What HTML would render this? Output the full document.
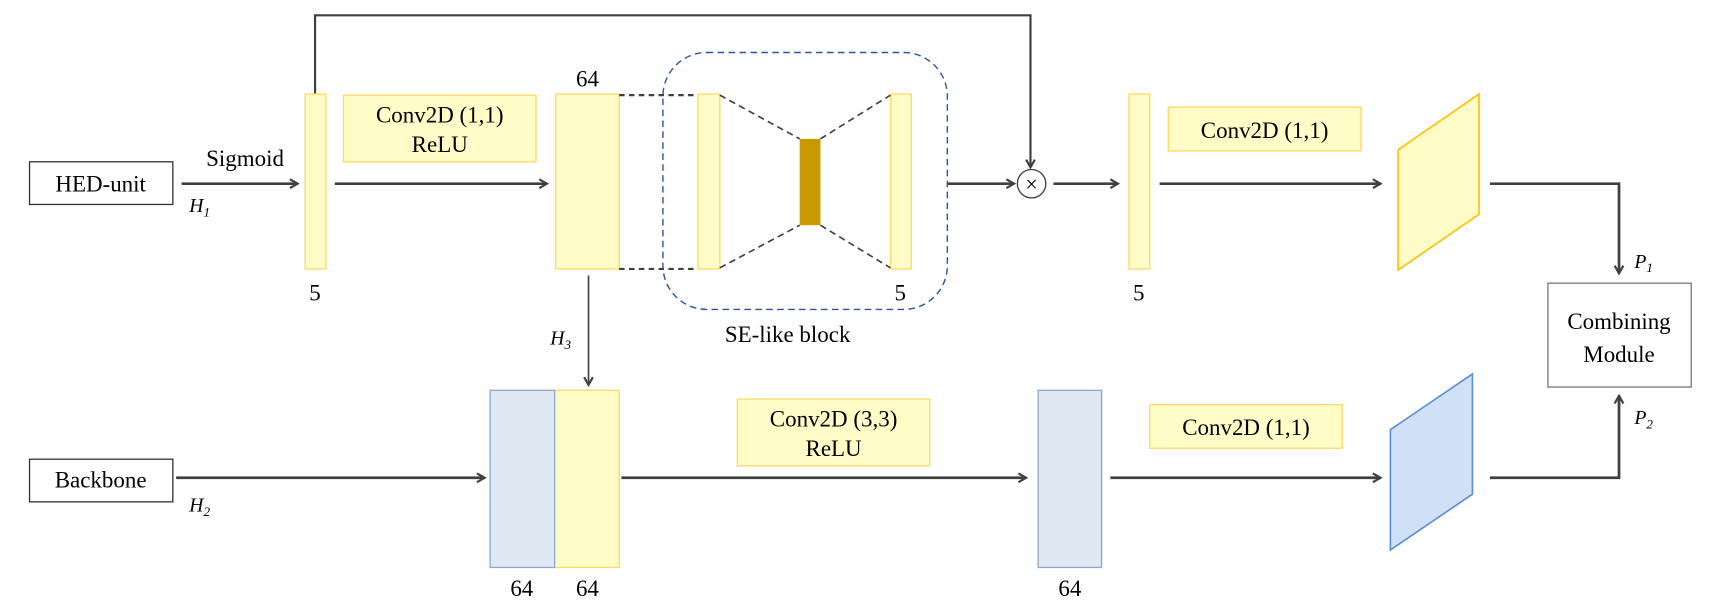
<!DOCTYPE html>
<html><head><meta charset="utf-8"><style>
html,body{margin:0;padding:0;background:#fff;}
svg{display:block;}
text{font-family:"Liberation Serif",serif;fill:#000;}
</style></head><body>
<svg width="1712" height="609" viewBox="0 0 1565 557" preserveAspectRatio="none" xmlns="http://www.w3.org/2000/svg">
<defs>
<marker id="a" markerWidth="10" markerHeight="10" refX="8" refY="5" orient="auto" markerUnits="userSpaceOnUse">
<path d="M1,1 L8,5 L1,9" fill="none" stroke="#404040" stroke-width="2"/>
</marker>
</defs>
<g stroke="#404040" stroke-width="2.5" fill="none">
<!-- top skip -->
<polyline points="288,86 288,14 942,14 942,153" stroke-width="2" marker-end="url(#a)"/>
<line x1="166" y1="168" x2="272" y2="168" marker-end="url(#a)"/>
<line x1="306" y1="168" x2="500" y2="168" marker-end="url(#a)"/>
<line x1="866" y1="168" x2="927" y2="168" marker-end="url(#a)"/>
<line x1="963" y1="168" x2="1022" y2="168" marker-end="url(#a)"/>
<line x1="1060" y1="168" x2="1262" y2="168" marker-end="url(#a)"/>
<polyline points="1362,168 1480,168 1480,250" marker-end="url(#a)"/>
<polyline points="1362,437 1480,437 1480,362" marker-end="url(#a)"/>
<line x1="538" y1="252" x2="538" y2="352" stroke-width="1.5" marker-end="url(#a)"/>
<line x1="161" y1="437" x2="443" y2="437" marker-end="url(#a)"/>
<line x1="568" y1="437" x2="938" y2="437" marker-end="url(#a)"/>
<line x1="1015" y1="437" x2="1262" y2="437" marker-end="url(#a)"/>
</g>
<!-- boxes -->
<rect x="27" y="148" width="131" height="39" fill="#fff" stroke="#333" stroke-width="1.2"/>
<text x="92" y="175" font-size="21" text-anchor="middle">HED-unit</text>
<rect x="27" y="420" width="131" height="39" fill="#fff" stroke="#333" stroke-width="1.2"/>
<text x="92" y="446" font-size="21" text-anchor="middle">Backbone</text>
<rect x="1415" y="259" width="131" height="95" fill="#fff" stroke="#777" stroke-width="1.2"/>
<text x="1480" y="301" font-size="21" text-anchor="middle">Combining</text>
<text x="1480" y="331" font-size="21" text-anchor="middle">Module</text>
<!-- label boxes -->
<g fill="#fffcc8" stroke="#ffd966" stroke-width="1.2">
<rect x="314" y="87" width="176" height="61"/>
<rect x="1068" y="98" width="176" height="40"/>
<rect x="674" y="365" width="176" height="61"/>
<rect x="1051" y="370" width="176" height="40"/>
</g>
<g font-size="21" text-anchor="middle">
<text x="402" y="112">Conv2D (1,1)</text><text x="402" y="139">ReLU</text>
<text x="1156" y="126">Conv2D (1,1)</text>
<text x="762" y="390">Conv2D (3,3)</text><text x="762" y="417">ReLU</text>
<text x="1139" y="398">Conv2D (1,1)</text>
<text x="224" y="152">Sigmoid</text>
<text x="720" y="313">SE-like block</text>
<text x="537" y="79">64</text>
<text x="288" y="275">5</text><text x="823" y="275">5</text><text x="1041" y="275">5</text>
<text x="477" y="545">64</text><text x="537" y="545">64</text><text x="978" y="545">64</text>
</g>
<g font-size="18" font-style="italic">
<text x="173" y="194">H<tspan font-size="12" dy="4">1</tspan></text>
<text x="173" y="468">H<tspan font-size="12" dy="4">2</tspan></text>
<text x="503" y="315">H<tspan font-size="12" dy="4">3</tspan></text>
<text x="1494" y="245">P<tspan font-size="12" dy="4">1</tspan></text>
<text x="1494" y="388">P<tspan font-size="12" dy="4">2</tspan></text>
</g>
<!-- bars -->
<g fill="#fffcc8" stroke="#ffd966" stroke-width="1.2">
<rect x="279" y="86" width="19" height="160"/>
<rect x="508" y="86" width="58" height="160"/>
<rect x="638" y="86" width="20" height="160"/>
<rect x="814" y="86" width="19" height="160"/>
<rect x="1032" y="86" width="19" height="160"/>
<rect x="507" y="357" width="59" height="162"/>
</g>
<rect x="731" y="127" width="19" height="79" fill="#c99a00"/>
<g fill="#dfe8f3" stroke="#8fa6d0" stroke-width="1.2">
<rect x="448" y="357" width="59" height="162"/>
<rect x="949" y="357" width="58" height="162"/>
</g>
<polygon points="1278,137 1352,86 1352,196 1278,247" fill="#fffcc8" stroke="#ffc000" stroke-width="1.5"/>
<polygon points="1271,393 1346,342 1346,452 1271,503" fill="#cfe0f7" stroke="#5b8fd0" stroke-width="1.5"/>
<!-- dashed -->
<g stroke="#404040" stroke-width="2" stroke-dasharray="5,4" fill="none">
<line x1="566" y1="87" x2="638" y2="87"/>
<line x1="566" y1="246" x2="638" y2="246"/>
</g>
<g stroke="#404040" stroke-width="1.5" stroke-dasharray="6,4" fill="none">
<line x1="658" y1="87" x2="731" y2="127"/>
<line x1="658" y1="245" x2="731" y2="206"/>
<line x1="750" y1="127" x2="814" y2="87"/>
<line x1="750" y1="206" x2="814" y2="245"/>
</g>
<rect x="606" y="48" width="260" height="235" rx="40" fill="none" stroke="#2f5597" stroke-width="1.3" stroke-dasharray="6,4"/>
<circle cx="943" cy="168" r="13" fill="#fff" stroke="#404040" stroke-width="1.2"/>
<text x="943" y="175" font-size="20" text-anchor="middle">×</text>
</svg>
</body></html>
